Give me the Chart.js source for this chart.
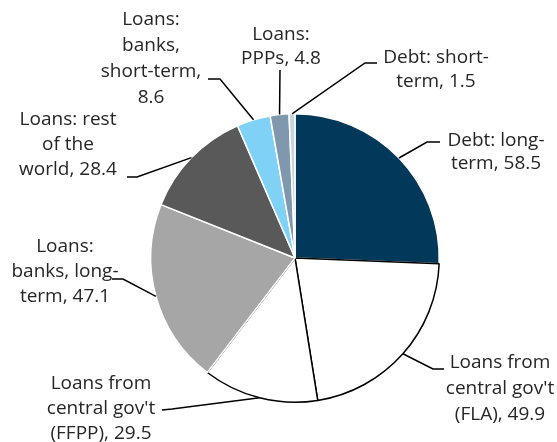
<!DOCTYPE html>
<html>
<head>
<meta charset="utf-8">
<script src="https://cdn.jsdelivr.net/npm/chart.js@4"></script>
<style>
  body { margin: 0; background: #fff; }
  #wrap { width: 557px; height: 442px; position: relative; }
</style>
</head>
<body>
<div id="wrap"><canvas id="myChart"></canvas></div>
<script>
// data, clockwise from 12 o'clock
var labels = [
  "Debt: long-term",
  "Loans from central gov't (FLA)",
  "Loans from central gov't (FFPP)",
  "Loans: banks, long-term",
  "Loans: rest of the world",
  "Loans: banks, short-term",
  "Loans: PPPs",
  "Debt: short-term"
];
var values = [58.5, 49.9, 29.5, 47.1, 28.4, 8.6, 4.8, 1.5];
var labelLines = [
  ["Debt: long-", "term, 58.5"],
  ["Loans from", "central gov't", "(FLA), 49.9"],
  ["Loans from", "central gov't", "(FFPP), 29.5"],
  ["Loans:", "banks, long-", "term, 47.1"],
  ["Loans: rest", "of the", "world, 28.4"],
  ["Loans:", "banks,", "short-term,", "8.6"],
  ["Loans:", "PPPs, 4.8"],
  ["Debt: short-", "term, 1.5"]
];

var fills = ["#023859", "#ffffff", "#ffffff", "#a6a6a6", "#595959", "#7fd1f5", "#7f98ad", "#c8d5df"];
var edges = ["#ffffff", "#000000", "#000000", "#ffffff", "#ffffff", "#ffffff", "#ffffff", "#ffffff"];

// label placement: text centre x, first line y, line height, elbow, line end
var place = [
  { tx: 496, ty: 141, lh: 23, elbow: [427, 142], end: [440, 142] },
  { tx: 500, ty: 363, lh: 26, elbow: [433, 369], end: [444, 369] },
  { tx: 101, ty: 384, lh: 25, elbow: [172, 409], end: [162, 410] },
  { tx: 65, ty: 247, lh: 25, elbow: [123, 279], end: [112, 279] },
  { tx: 68, ty: 120, lh: 25, elbow: [137, 177], end: [127, 177] },
  { tx: 151, ty: 20, lh: 26, elbow: [220, 79], end: [208, 79] },
  { tx: 281, ty: 35, lh: 24, elbow: [280, 70], end: [280, 70] },
  { tx: 436, ty: 58, lh: 24, elbow: [365, 63], end: [377, 63] }
];

var calloutPlugin = {
  id: "callouts",
  afterDraw: function (chart) {
    var ctx = chart.ctx;
    var meta = chart.getDatasetMeta(0);
    ctx.save();
    meta.data.forEach(function (arc, i) {
      var p = arc.getProps(["x", "y", "startAngle", "endAngle", "outerRadius"], true);
      var mid = (p.startAngle + p.endAngle) / 2;
      var sx = p.x + Math.cos(mid) * p.outerRadius;
      var sy = p.y + Math.sin(mid) * p.outerRadius;
      var pl = place[i];
      ctx.strokeStyle = "#000";
      ctx.lineWidth = 1.5;
      ctx.beginPath();
      ctx.moveTo(sx, sy);
      ctx.lineTo(pl.elbow[0], pl.elbow[1]);
      ctx.lineTo(pl.end[0], pl.end[1]);
      ctx.stroke();

      ctx.fillStyle = "#262626";
      ctx.font = "19px 'Open Sans'";
      ctx.textAlign = "center";
      ctx.textBaseline = "middle";
      labelLines[i].forEach(function (line, j) {
        ctx.fillText(line, pl.tx, pl.ty + j * pl.lh);
      });
    });
    ctx.restore();
  }
};

var ctx = document.getElementById("myChart").getContext("2d");
var chart = new Chart(ctx, {
  type: "pie",
  data: {
    labels: labels,
    datasets: [
      {
        data: values,
        backgroundColor: fills,
        borderColor: edges,
        borderWidth: 1.5
      }
    ]
  },
  options: {
    responsive: true,
    maintainAspectRatio: false,
    animation: false,
    layout: { padding: { left: 150, right: 117, top: 113, bottom: 39 } },
    plugins: {
      legend: { display: false },
      tooltip: { enabled: false }
    }
  },
  plugins: [calloutPlugin]
});
</script>
</body>
</html>
